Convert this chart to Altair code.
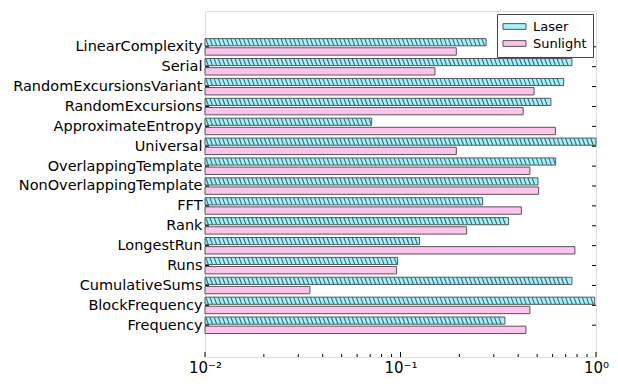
import altair as alt
import numpy as np
import pandas as pd

# ---- data (index 0 is the bottom row) ----
categories = ["Frequency", "BlockFrequency", "CumulativeSums", "Runs", "LongestRun",
              "Rank", "FFT", "NonOverlappingTemplate", "OverlappingTemplate", "Universal",
              "ApproximateEntropy", "RandomExcursions", "RandomExcursionsVariant", "Serial",
              "LinearComplexity"]
laser = [0.342, 0.985, 0.753, 0.0966, 0.125, 0.357, 0.263, 0.505, 0.622, 1.0,
         0.0712, 0.588, 0.683, 0.753, 0.274]
sunlight = [0.438, 0.459, 0.0344, 0.0955, 0.780, 0.218, 0.415, 0.509, 0.459, 0.193,
            0.620, 0.424, 0.482, 0.150, 0.193]
series = ["Laser", "Sunlight"]
x_major = [0.01, 0.1, 1.0]
x_minor = [m * d for d in (0.01, 0.1) for m in range(2, 10)]

# ---- layout / style ----
W, H = 391, 346
FONT = "DejaVu Sans"
C_LASER = "#aaf0fa"
C_SUN = "#ffc4ee"
C_HATCH = "#2d6f7c"
C_EDGE = "#555555"
Y_DOMAIN = [-1.60, 15.80]

rows = []
for k, (c, l, s) in enumerate(zip(categories, laser, sunlight)):
    rows.append({"cat": c, "k": k, "series": "Laser", "value": l, "ya": k + 0.41, "yb": k + 0.05})
    rows.append({"cat": c, "k": k, "series": "Sunlight", "value": s, "ya": k - 0.05, "yb": k - 0.42})
df = pd.DataFrame(rows)

# hatch strokes for the Laser bars, derived from the bar values
step, slant = 0.0214, 0.0128
hrows = []
for k, v in enumerate(laser):
    end = np.log10(v)
    t = -2.0 + 0.004
    while t + slant <= end:
        hrows.append({"x1": 10 ** t, "x2": 10 ** (t + slant), "ya": k + 0.40, "yb": k + 0.06})
        t += step
hatch = pd.DataFrame(hrows)

xscale = alt.Scale(type="log", domain=[0.01, 1.0], nice=False)
yscale = alt.Scale(domain=Y_DOMAIN, nice=False, zero=False)

label_arr = "[" + ",".join("'" + c + "'" for c in categories) + "]"
yaxis = alt.Axis(values=list(range(len(categories))), labelExpr=label_arr + "[datum.value]",
                 title=None, tickSize=0, domain=False, grid=False, labelFont=FONT,
                 labelFontSize=14.5, labelColor="#000", labelPadding=3, labelLimit=400)
xaxis = alt.Axis(values=x_major,
                 labelExpr="datum.value < 0.05 ? '10⁻²' : (datum.value < 0.5 ? '10⁻¹' : '10⁰')",
                 title=None, tickSize=0, domain=False, grid=False, labelFont=FONT,
                 labelFontSize=15, labelColor="#000", labelPadding=3, labelFlush=False)

bars = alt.Chart(df).mark_bar(stroke=C_EDGE, strokeWidth=1).encode(
    x=alt.X("value:Q", scale=xscale, axis=xaxis),
    x2=alt.value(0),
    y=alt.Y("ya:Q", scale=yscale, axis=yaxis),
    y2="yb:Q",
    fill=alt.Fill("series:N", scale=alt.Scale(domain=series, range=[C_LASER, C_SUN]),
                  legend=alt.Legend(title=None, orient="top-right", offset=3,
                                    strokeColor="#444", fillColor="white", padding=6,
                                    labelFont=FONT, labelFontSize=13, labelColor="#000",
                                    symbolType="M-2,-0.5H2V0.5H-2Z", symbolSize=132,
                                    symbolOffset=5, symbolStrokeColor=C_EDGE,
                                    symbolStrokeWidth=1, rowPadding=3, labelOffset=12)),
)

hatch_layer = alt.Chart(hatch).mark_rule(color=C_HATCH, strokeWidth=1.1).encode(
    x=alt.X("x1:Q", scale=xscale, axis=xaxis),
    x2="x2:Q",
    y=alt.Y("ya:Q", scale=yscale, axis=yaxis),
    y2="yb:Q",
)

kdf = pd.DataFrame({"k": list(range(len(categories)))})
left_ticks = alt.Chart(kdf).mark_rule(color="#000", strokeWidth=1).encode(
    y=alt.Y("k:Q", scale=yscale, axis=yaxis), x=alt.value(0), x2=alt.value(4))
right_ticks = alt.Chart(kdf).mark_rule(color="#000", strokeWidth=1).encode(
    y=alt.Y("k:Q", scale=yscale, axis=yaxis), x=alt.value(W - 4), x2=alt.value(W))

major = alt.Chart(pd.DataFrame({"v": x_major})).mark_rule(color="#000", strokeWidth=1).encode(
    x=alt.X("v:Q", scale=xscale, axis=xaxis), y=alt.value(H - 5), y2=alt.value(H))
minor = alt.Chart(pd.DataFrame({"v": x_minor})).mark_rule(color="#000", strokeWidth=1).encode(
    x=alt.X("v:Q", scale=xscale, axis=xaxis), y=alt.value(H - 3), y2=alt.value(H))

chart = alt.layer(bars, hatch_layer, left_ticks, right_ticks, major, minor).properties(
    width=W, height=H,
    autosize=alt.AutoSizeParams(type="none"),
    padding={"left": 197, "top": 3, "right": 14, "bottom": 19},
).configure_view(stroke="#000", strokeWidth=1).configure(background="white")

chart.save("out.html", embed_options={"renderer": "svg", "actions": False})
